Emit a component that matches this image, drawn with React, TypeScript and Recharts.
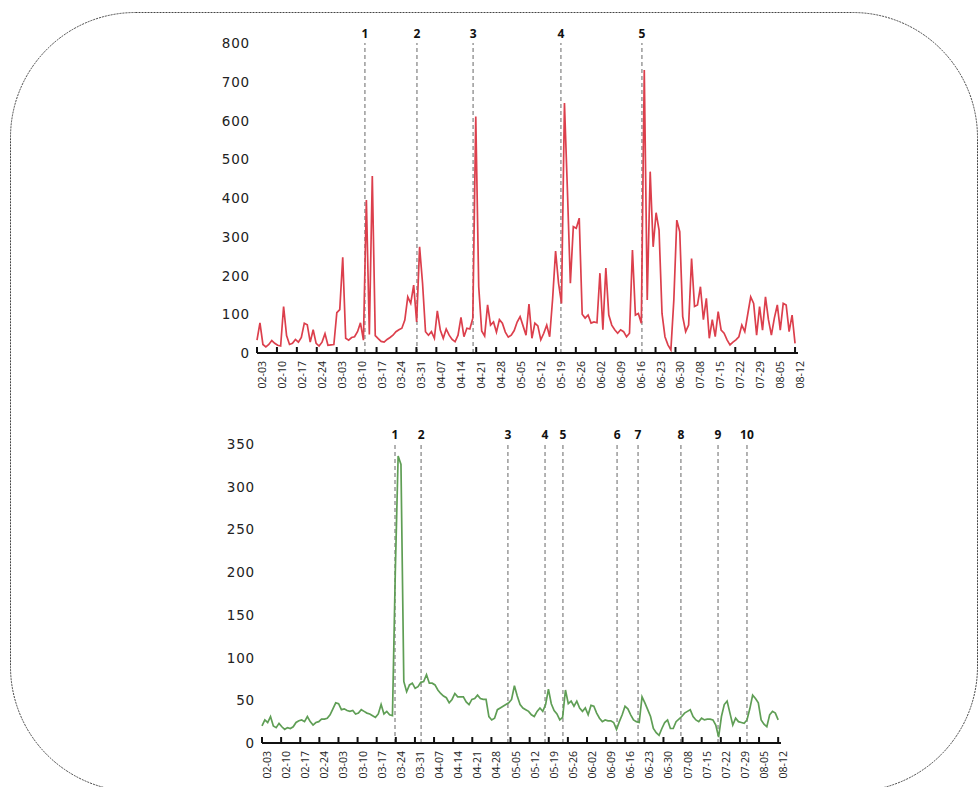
import React from 'react';
import { LineChart, Line, XAxis, YAxis, ReferenceLine } from 'recharts';

// Weekly tick labels
const tickLabels = [
  '02-03', '02-10', '02-17', '02-24', '03-03', '03-10', '03-17', '03-24', '03-31',
  '04-07', '04-14', '04-21', '04-28', '05-05', '05-12', '05-19', '05-26', '06-02',
  '06-09', '06-16', '06-23', '06-30', '07-08', '07-15', '07-22', '07-29', '08-05', '08-12',
];

// Upper panel (red) daily values
const topValues = [
  33, 78, 22, 16, 22, 32, 25, 20, 18, 120,
  45, 22, 25, 35, 28, 40, 77, 73, 28, 60,
  25, 18, 28, 50, 20, 21, 22, 104, 112, 247,
  38, 33, 40, 42, 55, 78, 33, 395, 48, 457,
  45, 37, 30, 28, 35, 40, 46, 55, 60, 64,
  85, 145, 128, 175, 80, 274, 180, 55, 46, 55,
  38, 109, 59, 38, 62, 46, 35, 29, 46, 92,
  42, 64, 62, 90, 610, 171, 57, 44, 124, 72,
  80, 54, 86, 77, 54, 41, 46, 58, 80, 94,
  70, 46, 126, 38, 77, 70, 34, 51, 72, 42,
  140, 263, 180, 128, 645, 420, 180, 326, 322, 348,
  100, 90, 98, 77, 80, 78, 206, 60, 219, 98,
  72, 60, 51, 60, 55, 42, 51, 266, 98, 102,
  77, 730, 137, 468, 274, 362, 317, 102, 42, 21,
  8, 137, 343, 313, 94, 55, 72, 244, 120, 124,
  171, 86, 141, 38, 86, 42, 107, 59, 51, 34,
  21, 28, 34, 42, 72, 55, 100, 145, 128, 46,
  120, 59, 145, 86, 46, 90, 124, 59, 128, 124,
  55, 98, 25,
];

// Lower panel (green) daily values
const bottomValues = [
  20, 27, 24, 31, 20, 18, 23, 19, 16, 18,
  17, 19, 24, 26, 27, 25, 31, 25, 21, 24,
  25, 28, 28, 29, 33, 40, 47, 46, 39, 40,
  38, 37, 38, 34, 35, 39, 37, 35, 34, 32,
  30, 34, 45, 34, 37, 33, 32, 200, 336, 326,
  72, 60, 68, 70, 64, 66, 71, 72, 80, 70,
  70, 68, 62, 58, 55, 53, 47, 51, 58, 54,
  54, 54, 48, 45, 51, 52, 56, 52, 51, 51,
  31, 27, 29, 39, 41, 43, 45, 47, 51, 67,
  55, 45, 41, 39, 37, 33, 31, 37, 41, 37,
  45, 63, 46, 38, 34, 27, 30, 62, 46, 49,
  43, 49, 41, 37, 41, 33, 44, 43, 35, 29,
  25, 27, 26, 26, 24, 16, 25, 33, 43, 40,
  33, 27, 25, 24, 54, 47, 39, 31, 17, 12,
  9, 17, 24, 27, 17, 17, 25, 28, 31, 35,
  37, 39, 31, 27, 25, 29, 27, 28, 28, 27,
  21, 7, 31, 45, 49, 35, 21, 29, 25, 24,
  23, 27, 40, 56, 52, 47, 27, 22, 19, 33,
  37, 35, 27,
];

// Event markers (positions in point index units)
const topEvents = [36.5, 54.1, 73.1, 102.8, 130.2];
const bottomEvents = [46.9, 56.1, 86.7, 99.8, 106.1, 125.2, 132.6, 147.7, 160.8, 171.0];

const topYTicks = [0, 100, 200, 300, 400, 500, 600, 700, 800];
const bottomYTicks = [0, 50, 100, 150, 200, 250, 300, 350];

const lastIndex = topValues.length - 1;
const tickStep = lastIndex / (tickLabels.length - 1);
const tickPositions = tickLabels.map((_, k) => k * tickStep);

const topData = topValues.map((v, i) => ({ day: i, value: v }));
const bottomData = bottomValues.map((v, i) => ({ day: i, value: v }));

function XTick(props: any) {
  const { x, y, payload } = props;
  const label = tickLabels[Math.round(payload.value / tickStep)];
  return (
    <g transform={`translate(${x},${y})`}>
      <line x1={0} x2={0} y1={-6} y2={0} stroke="#111" strokeWidth={2} />
      <text
        transform="rotate(-90)"
        x={-8}
        y={9}
        textAnchor="end"
        fontSize={10.5}
        fontFamily="'Open Sans', sans-serif"
        fill="#222"
      >
        {label}
      </text>
    </g>
  );
}

function YTick(props: any) {
  const { x, y, payload } = props;
  return (
    <text
      x={x}
      y={y}
      dy={5}
      textAnchor="end"
      fontSize={13.5}
      fontFamily="'DejaVu Sans', sans-serif"
      letterSpacing={0.8}
      fill="#222"
    >
      {payload.value}
    </text>
  );
}

function Panel(props: any) {
  const { data, events, yMax, yTicks, color, height, margin, xHeight } = props;
  return (
    <LineChart width={980} height={height} data={data} margin={margin}>
      <XAxis
        type="number"
        dataKey="day"
        domain={[0, lastIndex + 1]}
        ticks={tickPositions}
        interval={0}
        tick={<XTick />}
        tickSize={0}
        tickMargin={0}
        tickLine={false}
        axisLine={{ stroke: '#111', strokeWidth: 2 }}
        height={xHeight}
        allowDecimals
      />
      <YAxis
        type="number"
        domain={[0, yMax]}
        ticks={yTicks}
        interval={0}
        tick={<YTick />}
        tickSize={0}
        tickMargin={7}
        tickLine={false}
        axisLine={false}
        width={60}
      />
      {events.map((e: number, i: number) => (
        <ReferenceLine
          key={i}
          x={e}
          stroke="#9a9a9a"
          strokeWidth={1.5}
          strokeDasharray="4 3"
          label={{
            value: String(i + 1),
            position: 'top',
            fill: '#111',
            fontSize: 12,
            fontWeight: 700,
            fontFamily: "'Open Sans', sans-serif",
          }}
        />
      ))}
      <Line
        type="linear"
        dataKey="value"
        stroke={color}
        strokeWidth={1.7}
        dot={false}
        activeDot={false}
        isAnimationActive={false}
      />
    </LineChart>
  );
}

export default function App() {
  return (
    <div style={{ position: 'absolute', left: 0, top: 0, width: 980, height: 787, background: '#fff', overflow: 'hidden' }}>
      <svg width={980} height={787} style={{ position: 'absolute', left: 0, top: 0, pointerEvents: 'none' }}>
        <rect x={10.5} y={12.5} width={967} height={779} rx={125} ry={125} fill="none" stroke="#444" strokeWidth={1} strokeDasharray="2 1" />
      </svg>
      <div style={{ position: 'absolute', left: 0, top: 0 }}>
        <Panel
          data={topData}
          events={topEvents}
          yMax={800}
          yTicks={topYTicks}
          color="#dc3f4c"
          height={400}
          xHeight={45}
          margin={{ top: 43, right: 182, bottom: 2, left: 197 }}
        />
      </div>
      <div style={{ position: 'absolute', left: 0, top: 400 }}>
        <Panel
          data={bottomData}
          events={bottomEvents}
          yMax={350}
          yTicks={bottomYTicks}
          color="#5f9e55"
          height={387}
          xHeight={42}
          margin={{ top: 44, right: 199, bottom: 2, left: 202 }}
        />
      </div>
    </div>
  );
}
